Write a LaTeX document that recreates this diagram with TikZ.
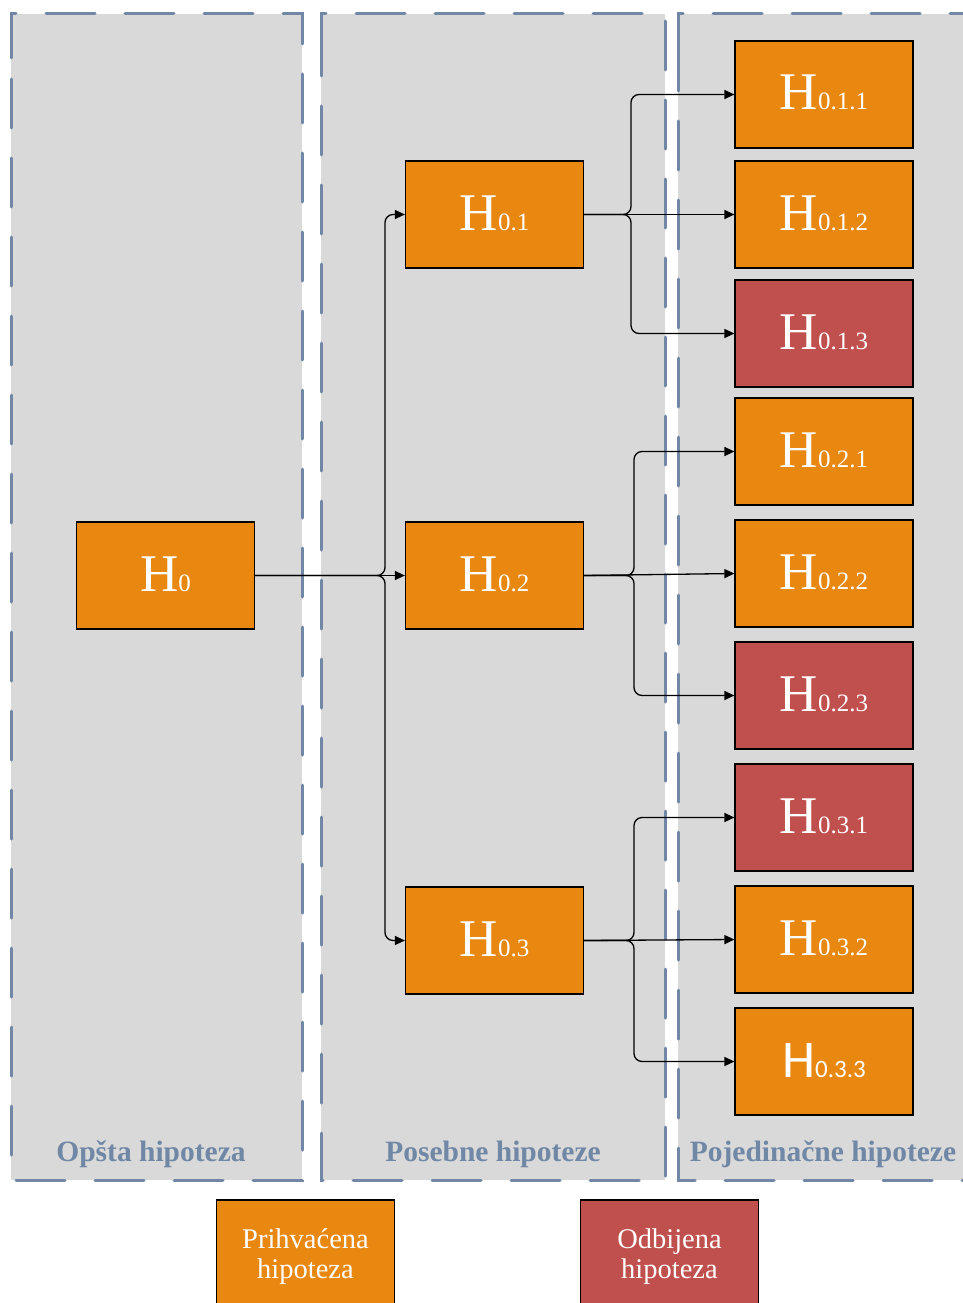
\documentclass[tikz,border=0pt]{standalone}
\usepackage{fontspec}
\setmainfont{Liberation Serif}
\newfontfamily\carlito{Carlito}
\usetikzlibrary{arrows.meta}
\definecolor{panelgray}{RGB}{217,217,217}
\definecolor{panelline}{RGB}{112,136,165}
\definecolor{hypok}{RGB}{232,136,17}
\definecolor{hypno}{RGB}{192,80,77}
% hypothesis label: large H followed by a smaller index
\newcommand\hyp[2][\rmfamily]{{#1\fontsize{53}{53}\selectfont H\fontsize{25}{25}\selectfont #2}}
\begin{document}
\begin{tikzpicture}[x=1pt,y=-1pt,
  panelborder/.style={draw=panelline, line width=3pt, line cap=round, dash pattern=on 49pt off 30pt},
  hbox/.style={draw=black, line width=1.2pt, minimum width=178pt, minimum height=107pt,
    inner sep=0pt, text=white, text height=31pt, text depth=0pt},
  ok/.style={hbox, fill=hypok},
  no/.style={hbox, fill=hypno},
  legendbox/.style={draw=black, line width=1.2pt, minimum width=178pt, minimum height=107pt,
    inner sep=0pt, text=white, align=center, font=\fontsize{28.5}{30}\selectfont,
    text height=55pt, text depth=6pt},
  conn/.style={line width=1.3pt, rounded corners=8pt, -{Triangle[length=10pt,width=9pt]}},
  lbl/.style={text=panelline, font=\bfseries\fontsize{29.5}{29.5}\selectfont, anchor=base}
]
\useasboundingbox (0,0) rectangle (963,1303);
\clip (0,0) rectangle (963,1303);

% column panels
\fill[panelgray] (11,14) rectangle (302,1180);
\fill[panelgray] (321,14) rectangle (665,1180);
\fill[panelgray] (678,14) rectangle (990,1180);
\draw[panelborder] (11,58) -- (11,14) -- (302,14) -- (302,1180) -- (11,1180) -- cycle;
\draw[panelborder] (321,58) -- (321,14) -- (665,14) -- (665,1180) -- (321,1180) -- cycle;
\draw[panelborder] (678,58) -- (678,14) -- (990,14) -- (990,1180) -- (678,1180) -- cycle;

\node[lbl] (l1) at (151,1161) {Opšta hipoteza};
\node[lbl] (l2) at (493,1161) {Posebne hipoteze};
\node[lbl] (l3) at (823,1161) {Pojedinačne hipoteze};

% general hypothesis
\node[ok] (h0) at (165.5,575.5) {\hyp{0}};

% particular hypotheses
\node[ok] (h01) at (494.5,214.5) {\hyp{0.1}};
\node[ok] (h02) at (494.5,575.5) {\hyp{0.2}};
\node[ok] (h03) at (494.5,940.5) {\hyp{0.3}};

% individual hypotheses
\node[ok] (h011) at (824,94.5) {\hyp{0.1.1}};
\node[ok] (h012) at (824,214.5) {\hyp{0.1.2}};
\node[no] (h013) at (824,333.5) {\hyp{0.1.3}};
\node[ok] (h021) at (824,451.5) {\hyp{0.2.1}};
\node[ok] (h022) at (824,573.5) {\hyp{0.2.2}};
\node[no] (h023) at (824,695.5) {\hyp{0.2.3}};
\node[no] (h031) at (824,817.5) {\hyp{0.3.1}};
\node[ok] (h032) at (824,939.5) {\hyp{0.3.2}};
\node[ok] (h033) at (824,1061.5) {\hyp[\carlito]{0.3.3}};

% branching points
\coordinate (j0) at (385,575.5);
\coordinate (j1) at (631,214.5);
\coordinate (j2) at (634,575.5);
\coordinate (j3) at (634,940.5);

\draw[conn] (h0.east) -- (j0) |- (h01.west);
\draw[conn] (h0.east) -- (h02.west);
\draw[conn] (h0.east) -- (j0) |- (h03.west);

\draw[conn] (h01.east) -- (j1) |- (h011.west);
\draw[conn] (h01.east) -- (h012.west);
\draw[conn] (h01.east) -- (j1) |- (h013.west);

\draw[conn] (h02.east) -- (j2) |- (h021.west);
\draw[conn] (h02.east) -- (h022.west);
\draw[conn] (h02.east) -- (j2) |- (h023.west);

\draw[conn] (h03.east) -- (j3) |- (h031.west);
\draw[conn] (h03.east) -- (h032.west);
\draw[conn] (h03.east) -- (j3) |- (h033.west);

% legend
\node[legendbox, fill=hypok] (lg1) at (305.5,1253.5) {Prihvaćena\\hipoteza};
\node[legendbox, fill=hypno] (lg2) at (669.5,1253.5) {Odbijena\\hipoteza};
\end{tikzpicture}
\end{document}
